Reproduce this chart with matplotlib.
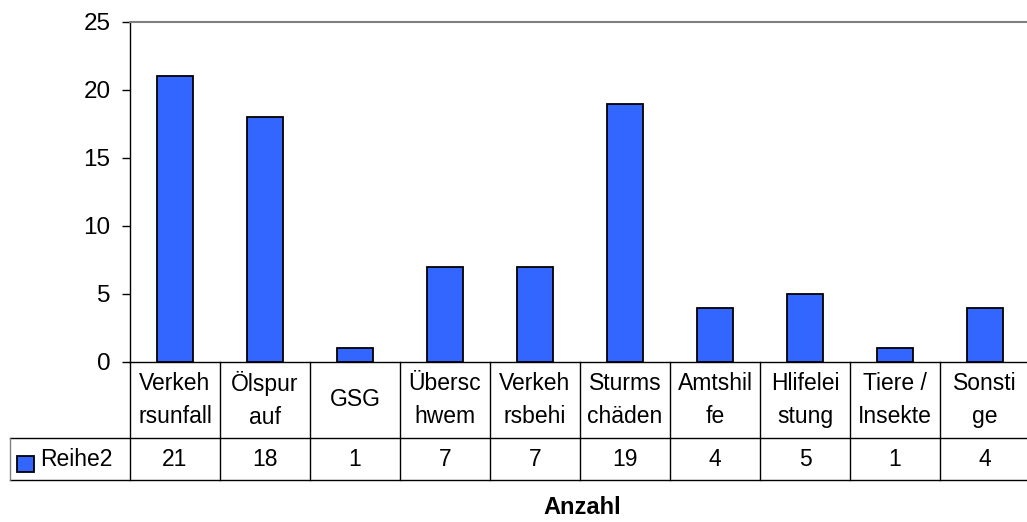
import matplotlib
matplotlib.use("Agg")
import matplotlib.pyplot as plt
from matplotlib.lines import Line2D
from matplotlib.patches import Rectangle

categories = ["Verkeh\nrsunfall", "Ölspur\nauf", "GSG", "Übersc\nhwem", "Verkeh\nrsbehi",
              "Sturms\nchäden", "Amtshil\nfe", "Hlifelei\nstung", "Tiere /\nInsekte", "Sonsti\nge"]
values = [21, 18, 1, 7, 7, 19, 4, 5, 1, 4]
series_name = "Reihe2"
axis_title = "Anzahl"
yticks = [0, 5, 10, 15, 20, 25]

plt.rcParams['font.family'] = ['Liberation Sans', 'DejaVu Sans']
W, H = 1027, 522
fig = plt.figure(figsize=(W / 100, H / 100), dpi=100)

def fx(x):
    return x / W

def fy(y):
    return 1 - y / H

left_px, top_px, bottom_px, col_w = 130, 22, 362, 90
n = len(categories)
ax = fig.add_axes([fx(left_px), fy(bottom_px), n * col_w / W, (bottom_px - top_px) / H])
x = list(range(n))
ax.bar(x, values, width=0.4, color="#3366FF", edgecolor="black", linewidth=1.3, zorder=3)
ax.set_xlim(-0.5, n - 0.5)
ax.set_ylim(0, 25)
ax.set_yticks(yticks)
ax.tick_params(axis='y', labelsize=17.5, length=6, width=1, pad=8, direction='out')
ax.set_xticks([])
ax.spines['top'].set_color('#808080')
ax.spines['top'].set_linewidth(1.5)
ax.spines['right'].set_visible(False)
ax.spines['left'].set_color('black')
ax.spines['bottom'].set_color('black')
ax.spines['left'].set_linewidth(1)
ax.spines['bottom'].set_linewidth(1)
tf = fig.transFigure

def hline(y, x0, x1, color='black', lw=1.0):
    fig.add_artist(Line2D([fx(x0), fx(x1)], [fy(y), fy(y)], transform=tf, color=color, lw=lw))

def vline(xp, y0, y1, color='black', lw=1.0):
    fig.add_artist(Line2D([fx(xp), fx(xp)], [fy(y0), fy(y1)], transform=tf, color=color, lw=lw))

row1_bot, row2_bot = 438, 480
legend_left = 10
right_px = left_px + n * col_w
hline(row1_bot, legend_left, right_px)
hline(row2_bot, legend_left, right_px)
vline(legend_left, row1_bot, row2_bot, color='#808080')
for i in range(n + 1):
    vline(left_px + i * col_w, bottom_px, row2_bot)

for i, (cat, val) in enumerate(zip(categories, values)):
    cx = left_px + (i + 0.5) * col_w
    fig.text(fx(cx), fy((bottom_px + row1_bot) / 2), cat, ha='center', va='center',
             fontsize=16.5, linespacing=1.55, transform=tf)
    fig.text(fx(cx), fy((row1_bot + row2_bot) / 2 + 1), str(val), ha='center', va='center',
             fontsize=16.5, transform=tf)

# legend key
fig.add_artist(Rectangle((fx(17), fy(472)), fx(17), 16 / H, transform=tf,
                         facecolor="#3366FF", edgecolor='black', lw=1.3))
fig.text(fx(40), fy(460), series_name, ha='left', va='center', fontsize=16.5, transform=tf)

fig.text(fx(582), fy(508), axis_title, ha='center', va='center', fontsize=17,
         fontweight='bold', transform=tf)

fig.savefig("out.png", dpi=100)
